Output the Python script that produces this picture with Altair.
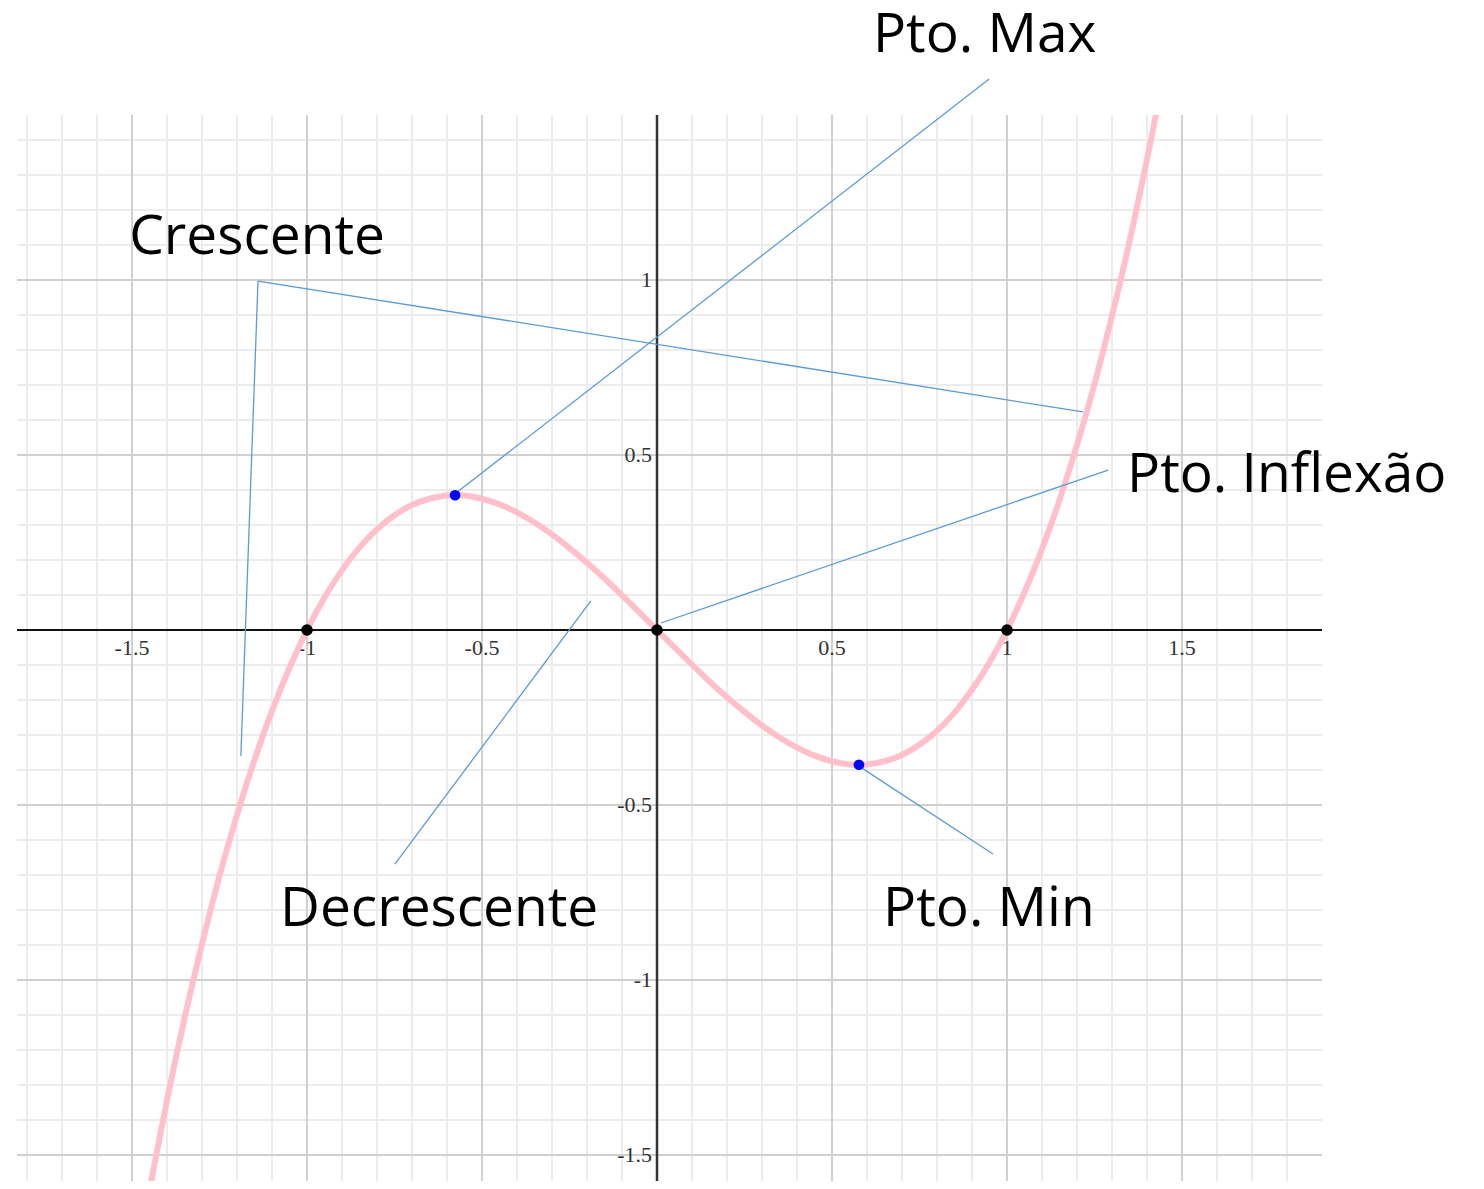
import altair as alt
import pandas as pd

# ---- data ----
curve_x = [-1.45, -1.40, -1.35, -1.30, -1.25, -1.20, -1.15, -1.10, -1.05, -1.00,
           -0.95, -0.90, -0.85, -0.80, -0.75, -0.70, -0.65, -0.60, -0.55, -0.50,
           -0.45, -0.40, -0.35, -0.30, -0.25, -0.20, -0.15, -0.10, -0.05, 0.00,
           0.05, 0.10, 0.15, 0.20, 0.25, 0.30, 0.35, 0.40, 0.45, 0.50,
           0.55, 0.60, 0.65, 0.70, 0.75, 0.80, 0.85, 0.90, 0.95, 1.00,
           1.05, 1.10, 1.15, 1.20, 1.25, 1.30, 1.35, 1.40, 1.43]
curve_y = [-1.599, -1.344, -1.110, -0.897, -0.703, -0.528, -0.371, -0.231, -0.108, 0.000,
           0.093, 0.171, 0.236, 0.288, 0.328, 0.357, 0.375, 0.384, 0.384, 0.375,
           0.359, 0.336, 0.307, 0.273, 0.234, 0.192, 0.147, 0.099, 0.050, 0.000,
           -0.050, -0.099, -0.147, -0.192, -0.234, -0.273, -0.307, -0.336, -0.359, -0.375,
           -0.384, -0.384, -0.375, -0.357, -0.328, -0.288, -0.236, -0.171, -0.093, 0.000,
           0.108, 0.231, 0.371, 0.528, 0.703, 0.897, 1.110, 1.344, 1.494]

root_x = [-1.0, 0.0, 1.0]
root_y = [0.0, 0.0, 0.0]
ext_x = [-0.577, 0.577]
ext_y = [0.385, -0.385]

x_tick_vals = [-1.5, -1.0, -0.5, 0.5, 1.0, 1.5]
x_tick_labels = ["-1.5", "-1", "-0.5", "0.5", "1", "1.5"]
y_tick_vals = [-1.5, -1.0, -0.5, 0.5, 1.0]
y_tick_labels = ["-1.5", "-1", "-0.5", "0.5", "1"]

minor_x = [-1.8, -1.7, -1.6, -1.4, -1.3, -1.2, -1.1, -0.9, -0.8, -0.7, -0.6, -0.4, -0.3, -0.2, -0.1,
           0.1, 0.2, 0.3, 0.4, 0.6, 0.7, 0.8, 0.9, 1.1, 1.2, 1.3, 1.4, 1.6, 1.7, 1.8]
major_x = [-1.5, -1.0, -0.5, 0.5, 1.0, 1.5]
minor_y = [-1.4, -1.3, -1.2, -1.1, -0.9, -0.8, -0.7, -0.6, -0.4, -0.3, -0.2, -0.1,
           0.1, 0.2, 0.3, 0.4, 0.6, 0.7, 0.8, 0.9, 1.1, 1.2, 1.3, 1.4]
major_y = [-1.5, -1.0, -0.5, 0.5, 1.0]

ann_x1 = [-1.14, -1.14, -0.577, 0.011, -0.189, 0.577]
ann_y1 = [0.997, 0.997, 0.389, 0.02, 0.083, -0.389]
ann_x2 = [-1.189, 1.217, 0.949, 1.289, -0.749, 0.960]
ann_y2 = [-0.360, 0.623, 1.574, 0.457, -0.669, -0.640]

label_text = ["Crescente", "Pto. Max", "Pto. Inflexão", "Decrescente", "Pto. Min"]
label_x = [-1.508, 0.617, 1.343, -1.077, 0.646]
label_y = [1.074, 1.651, 0.394, -0.846, -0.846]

XMIN, XMAX = -1.8286, 1.9
YMIN, YMAX = -1.5743, 1.4714

xs = alt.Scale(domain=[XMIN, XMAX], nice=False, zero=False)
ys = alt.Scale(domain=[YMIN, YMAX], nice=False, zero=False)


def X(f):
    return alt.X(f, type="quantitative", scale=xs, axis=None)


def Y(f):
    return alt.Y(f, type="quantitative", scale=ys, axis=None)


vgrid_minor = alt.Chart(pd.DataFrame({"v": minor_x})).mark_rule(color="#ececec", strokeWidth=2).encode(x=X("v"))
hgrid_minor = alt.Chart(pd.DataFrame({"v": minor_y})).mark_rule(color="#ececec", strokeWidth=2).encode(y=Y("v"))
vgrid_major = alt.Chart(pd.DataFrame({"v": major_x})).mark_rule(color="#d0d0d0", strokeWidth=2).encode(x=X("v"))
hgrid_major = alt.Chart(pd.DataFrame({"v": major_y})).mark_rule(color="#d0d0d0", strokeWidth=2).encode(y=Y("v"))

x_axis = alt.Chart(pd.DataFrame({"v": [0.0]})).mark_rule(color="#111111", strokeWidth=2).encode(y=Y("v"))
y_axis = alt.Chart(pd.DataFrame({"v": [0.0]})).mark_rule(color="#333333", strokeWidth=2.5).encode(x=X("v"))

x_ticks_df = pd.DataFrame({"v": x_tick_vals, "lab": x_tick_labels, "z": [0.0] * len(x_tick_vals)})
x_labels = alt.Chart(x_ticks_df).mark_text(
    font="Liberation Serif", fontSize=22, color="#333333", align="center", baseline="alphabetic", dy=25
).encode(x=X("v"), y=Y("z"), text="lab:N")
y_ticks_df = pd.DataFrame({"v": y_tick_vals, "lab": y_tick_labels, "z": [0.0] * len(y_tick_vals)})
y_labels = alt.Chart(y_ticks_df).mark_text(
    font="Liberation Serif", fontSize=22, color="#333333", align="right", baseline="middle", dx=-5
).encode(x=X("z"), y=Y("v"), text="lab:N")

curve = alt.Chart(pd.DataFrame({"x": curve_x, "y": curve_y})).mark_line(
    color="#FFC0CB", strokeWidth=6, interpolate="natural", clip=True
).encode(x=X("x"), y=Y("y"), order="x:Q")

ann = alt.Chart(pd.DataFrame({"x1": ann_x1, "y1": ann_y1, "x2": ann_x2, "y2": ann_y2})).mark_rule(
    color="#5B9BD5", strokeWidth=1.3
).encode(x=X("x1"), y=Y("y1"), x2="x2:Q", y2="y2:Q")

roots = alt.Chart(pd.DataFrame({"x": root_x, "y": root_y})).mark_circle(
    size=135, color="black", opacity=1
).encode(x=X("x"), y=Y("y"))
extrema = alt.Chart(pd.DataFrame({"x": ext_x, "y": ext_y})).mark_circle(
    size=115, color="#0000ff", opacity=1
).encode(x=X("x"), y=Y("y"))

labels = alt.Chart(pd.DataFrame({"t": label_text, "x": label_x, "y": label_y})).mark_text(
    font="Open Sans", fontSize=55, color="black", align="left", baseline="alphabetic"
).encode(x=X("x"), y=Y("y"), text="t:N")

chart = alt.layer(
    vgrid_minor, hgrid_minor, vgrid_major, hgrid_major, x_axis, y_axis,
    x_labels, y_labels, curve, ann, roots, extrema, labels
).properties(
    width=1305, height=1066,
    autosize=alt.AutoSizeParams(type="none"),
    padding={"left": 9, "top": 107, "right": 154, "bottom": 0},
).configure_view(stroke=None)

chart.save("out.html", embed_options={"renderer": "svg", "actions": False})
